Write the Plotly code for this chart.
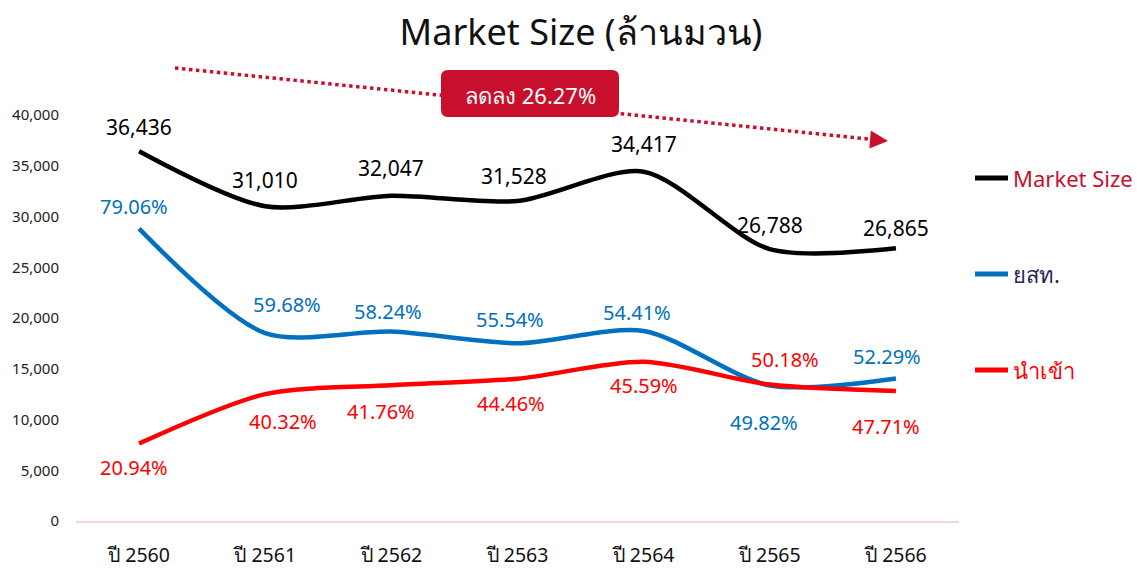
import plotly.graph_objects as go

# ---------------- data ----------------
years = ["ปี 2560", "ปี 2561", "ปี 2562", "ปี 2563", "ปี 2564", "ปี 2565", "ปี 2566"]
market_size = [36436, 31010, 32047, 31528, 34417, 26788, 26865]
yst_volume = [28806, 18507, 18664, 17511, 18726, 13346, 14048]
import_volume = [7630, 12503, 13383, 14017, 15691, 13442, 12817]
yst_share = ["79.06%", "59.68%", "58.24%", "55.54%", "54.41%", "49.82%", "52.29%"]
import_share = ["20.94%", "40.32%", "41.76%", "44.46%", "45.59%", "50.18%", "47.71%"]
series_names = ["Market Size", "ยสท.", "นำเข้า"]
decline_label = "ลดลง 26.27%"
y_ticks = [0, 5000, 10000, 15000, 20000, 25000, 30000, 35000, 40000]

# ---------------- label offsets (px) ----------------
ms_off = [(0, 24), (0, 26), (0, 28), (-4, 25), (0, 28), (0, 24), (0, 20)]
yst_off = [(-5, 22), (22, 29), (-3, 20), (-8, 24), (-7, 18), (-6, -37), (-9, 22)]
imp_off = [(-5, -24), (18, -27), (-10, -26), (-7, -25), (0, -24), (15, 25), (-10, -36)]

FONT = "Noto Sans, Tahoma, Leelawadee UI, sans-serif"
BLACK = "#000000"
BLUE = "#0070C0"
RED = "#FF0000"
CRIMSON = "#C8102E"
NAVY = "#1F2A5C"
line_colors = [BLACK, BLUE, RED]
legend_text_colors = [CRIMSON, NAVY, RED]
legend_rows = [178, 274, 370]

fig = go.Figure()
for name, yv, col in zip(series_names, [market_size, yst_volume, import_volume], line_colors):
    fig.add_trace(go.Scatter(x=years, y=yv, mode="lines", name=name,
                             line=dict(color=col, width=4.5, shape="spline", smoothing=0.8),
                             showlegend=False))

annotations = []
for i, yr in enumerate(years):
    annotations.append(dict(x=yr, y=market_size[i], text=f"{market_size[i]:,}",
                            showarrow=False, xshift=ms_off[i][0], yshift=ms_off[i][1],
                            xanchor="center", yanchor="middle",
                            font=dict(family=FONT, size=21, color=BLACK)))
    annotations.append(dict(x=yr, y=yst_volume[i], text=yst_share[i],
                            showarrow=False, xshift=yst_off[i][0], yshift=yst_off[i][1],
                            xanchor="center", yanchor="middle",
                            font=dict(family=FONT, size=20, color=BLUE)))
    annotations.append(dict(x=yr, y=import_volume[i], text=import_share[i],
                            showarrow=False, xshift=imp_off[i][0], yshift=imp_off[i][1],
                            xanchor="center", yanchor="middle",
                            font=dict(family=FONT, size=20, color=RED)))

# plot area pixel helpers
L, R, T, B = 76, 959, 115, 521
def px(xp):
    return (xp - L) / (R - L)
def py(yp):
    return (B - yp) / (B - T)

shapes = []
# custom legend
for name, lc, tc, ry in zip(series_names, line_colors, legend_text_colors, legend_rows):
    shapes.append(dict(type="line", xref="paper", yref="paper",
                       x0=px(975), x1=px(1008), y0=py(ry), y1=py(ry),
                       line=dict(color=lc, width=5)))
    annotations.append(dict(x=px(1011), y=py(ry), xref="paper", yref="paper",
                            xanchor="left", yanchor="middle", text=name, showarrow=False,
                            font=dict(family=FONT, size=22, color=tc)))

# dotted trend arrow
x0, y0, x1, y1 = 175, 68, 878, 140
shapes.append(dict(type="line", xref="paper", yref="paper",
                   x0=px(x0), y0=py(y0), x1=px(x1), y1=py(y1),
                   line=dict(color=CRIMSON, width=3.5, dash="dot"), layer="below"))
annotations.append(dict(x=px(888), y=py(141), xref="paper", yref="paper",
                        ax=-12, ay=-1, axref="pixel", ayref="pixel", text="",
                        showarrow=True, arrowhead=2, arrowsize=1.2, arrowwidth=3,
                        arrowcolor=CRIMSON))

# rounded box
bx0, by0, bx1, by1, r = 441, 70, 619, 117, 7
pth = (f"M {px(bx0 + r)},{py(by0)} L {px(bx1 - r)},{py(by0)} "
       f"Q {px(bx1)},{py(by0)} {px(bx1)},{py(by0 + r)} "
       f"L {px(bx1)},{py(by1 - r)} Q {px(bx1)},{py(by1)} {px(bx1 - r)},{py(by1)} "
       f"L {px(bx0 + r)},{py(by1)} Q {px(bx0)},{py(by1)} {px(bx0)},{py(by1 - r)} "
       f"L {px(bx0)},{py(by0 + r)} Q {px(bx0)},{py(by0)} {px(bx0 + r)},{py(by0)} Z")
shapes.append(dict(type="path", xref="paper", yref="paper", path=pth,
                   fillcolor=CRIMSON, line=dict(width=0)))
annotations.append(dict(x=px(530), y=py(95), xref="paper", yref="paper",
                        xanchor="center", yanchor="middle",
                        text=decline_label, showarrow=False,
                        font=dict(family=FONT, size=22, color="white")))

fig.update_layout(
    width=1137, height=570,
    margin=dict(l=L, r=1137 - R, t=T, b=570 - B),
    paper_bgcolor="white", plot_bgcolor="white",
    title=dict(text="Market Size (ล้านมวน)", x=581 / 1137, xanchor="center",
               y=1 - 32 / 570, yanchor="middle",
               font=dict(family=FONT, size=36, color="#111111")),
    showlegend=False,
    xaxis=dict(type="category", range=[-0.5, 6.5], showgrid=False, automargin=False,
               showline=True, linecolor="#F3D6DA", linewidth=1.5,
               ticks="", tickfont=dict(family=FONT, size=19.5, color="#111111"),
               ticklabelstandoff=16),
    yaxis=dict(range=[0, 40000], tickvals=y_ticks, tickformat=",", automargin=False,
               showgrid=False, zeroline=False, showline=False, ticks="",
               tickfont=dict(family=FONT, size=15, color="#222222"),
               ticklabelstandoff=16),
    shapes=shapes,
    annotations=annotations,
)

fig.write_html("out.html", post_script="document.body.style.margin='0';",
               config={"displayModeBar": False})
